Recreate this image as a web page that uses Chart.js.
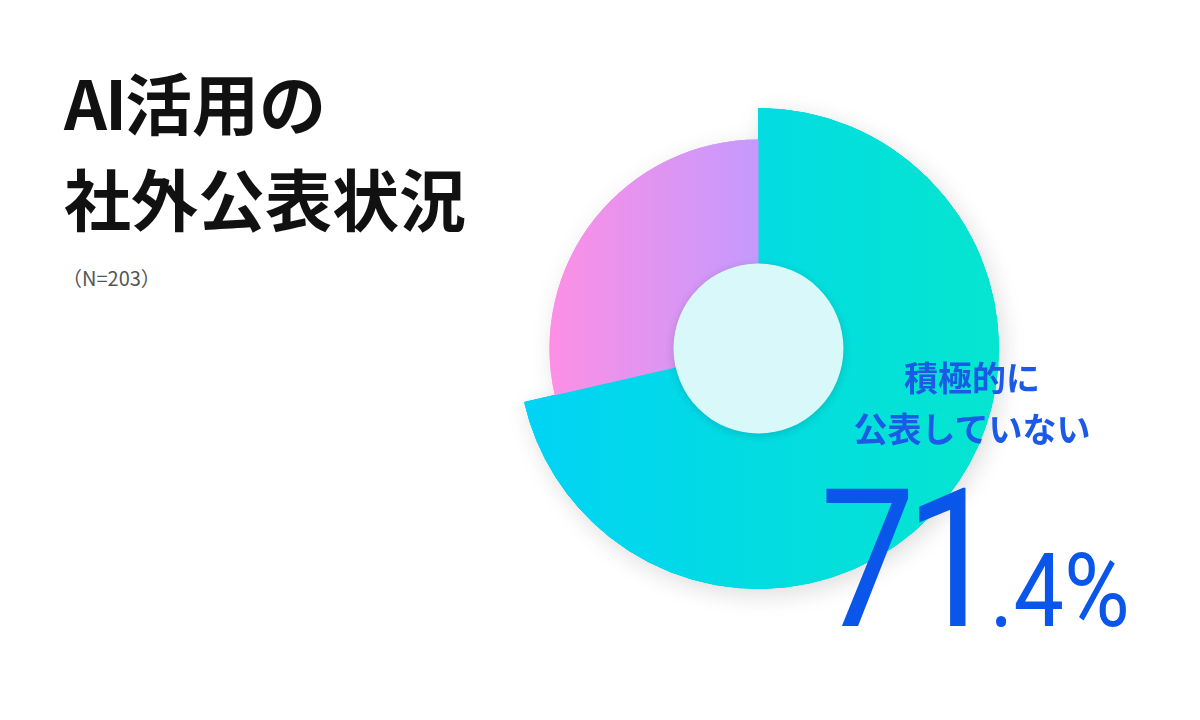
<!DOCTYPE html>
<html lang="ja">
<head>
<meta charset="utf-8">
<script src="https://cdn.jsdelivr.net/npm/chart.js@4.4.1/dist/chart.umd.min.js"></script>
<style>
  html, body { margin: 0; padding: 0; background: #fff; }
  body { width: 1200px; height: 720px; position: relative; overflow: hidden; font-family: "Noto Sans CJK JP", sans-serif; }
  #title { position: absolute; left: 64px; top: 53px; font-size: 67px; font-weight: 700; line-height: 96px; color: #111; white-space: nowrap; }
  #title .latin { letter-spacing: -2px; }
  #note { position: absolute; left: 62px; top: 266px; font-size: 20px; line-height: 24px; color: #555; }
  #wrap { position: absolute; left: 478px; top: 68px; width: 561px; height: 561px; }
  #label { position: absolute; left: 772px; top: 351px; width: 400px; text-align: center; font-size: 34px; font-weight: 700; line-height: 51px; color: #1a5ae6; z-index: 2; }
  #value { position: absolute; left: 820px; top: 464px; line-height: 1; font-family: Roboto, sans-serif; font-weight: 400; color: #0a56ea; white-space: nowrap; z-index: 2; transform: scaleX(0.88); transform-origin: left center; }
  #value .big { font-size: 193px; letter-spacing: -12px; }
  #value .small { font-size: 102px; }
</style>
</head>
<body>
<div id="title"><span class="latin">AI</span>活用の<br>社外公表状況</div>
<div id="note">（N=203）</div>
<div id="wrap"><canvas id="donut"></canvas></div>
<div id="label">積極的に<br>公表していない</div>
<div id="value"><span class="big">71</span><span class="small">.4%</span></div>

<script>
// データ
const categories = ['積極的に公表していない', 'その他'];
const shares = [71.4, 28.6];

document.addEventListener('DOMContentLoaded', () => {
    // 色（横方向グラデーション）
    function segmentColor(ctx) {
        const chart = ctx.chart;
        const area = chart.chartArea;
        // 外側リングでは「その他」は描かない
        if (ctx.datasetIndex === 0 && ctx.dataIndex === 1) return 'transparent';
        if (!area) return ctx.dataIndex === 0 ? '#00dde0' : '#e095f0';
        const cx = (area.left + area.right) / 2;
        const r = Math.min(area.right - area.left, area.bottom - area.top) / 2;
        const c = chart.ctx;
        let g;
        if (ctx.dataIndex === 0) {
            g = c.createLinearGradient(cx - r, 0, cx + r, 0);
            g.addColorStop(0, '#00d3f5');
            g.addColorStop(1, '#05e5cf');
        } else {
            g = c.createLinearGradient(cx - r * 0.87, 0, cx, 0);
            g.addColorStop(0, '#fd8fe5');
            g.addColorStop(1, '#c49afd');
        }
        return g;
    }

    // 影を先に描く
    const shadowPlugin = {
        id: 'shadow',
        beforeDatasetsDraw(chart) {
            const ctx = chart.ctx;
            ctx.save();
            ctx.shadowColor = 'rgba(0, 0, 0, 0.13)';
            ctx.shadowBlur = 22;
            ctx.shadowOffsetX = 4;
            ctx.shadowOffsetY = 6;
            chart.data.datasets.forEach((ds, i) => {
                chart.getDatasetMeta(i).data.forEach((arc, j) => {
                    if (i === 0 && j === 1) return;
                    arc.draw(ctx);
                });
            });
            ctx.restore();
        }
    };

    // 中央の円
    const holePlugin = {
        id: 'hole',
        afterDatasetsDraw(chart) {
            const arc = chart.getDatasetMeta(1).data[0];
            const ctx = chart.ctx;
            ctx.save();
            ctx.shadowColor = 'rgba(0, 40, 60, 0.18)';
            ctx.shadowBlur = 8;
            ctx.shadowOffsetY = 2;
            ctx.beginPath();
            ctx.arc(arc.x, arc.y, arc.innerRadius, 0, Math.PI * 2);
            ctx.fillStyle = '#d9f8fa';
            ctx.fill();
            ctx.restore();
        }
    };

    const ctx = document.getElementById('donut').getContext('2d');
    new Chart(ctx, {
        type: 'doughnut',
        data: {
            labels: categories,
            datasets: [{
                // 外側のはみ出し部分
                data: shares,
                weight: 31
            }, {
                data: shares,
                weight: 124
            }]
        },
        options: {
            responsive: true,
            maintainAspectRatio: false,
            animation: false,
            cutout: '35.4%',
            hoverOffset: 0,
            layout: { padding: 40 },
            elements: {
                arc: {
                    backgroundColor: segmentColor,
                    borderColor: segmentColor,
                    borderWidth: (c) => (c.dataIndex === 0 ? 1 : 0)
                }
            },
            plugins: {
                legend: { display: false },
                tooltip: { enabled: false }
            }
        },
        plugins: [shadowPlugin, holePlugin]
    });
});
</script>
</body>
</html>
